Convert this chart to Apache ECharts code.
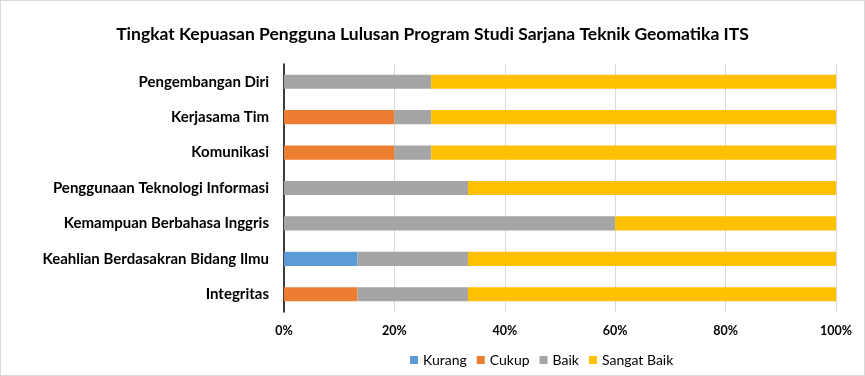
<!DOCTYPE html>
<html>
<head>
<meta charset="utf-8">
<script src="https://cdn.jsdelivr.net/npm/echarts@6/dist/echarts.min.js"></script>
<style>
  html, body { margin: 0; padding: 0; background: #fff; }
  #chart { width: 863px; height: 374px; border: 1px solid #d9d9d9; }
</style>
</head>
<body>
<div id="chart"></div>
<script>
// kategori dari atas ke bawah
const categories = [
  "Pengembangan Diri",
  "Kerjasama Tim",
  "Komunikasi",
  "Penggunaan Teknologi Informasi",
  "Kemampuan Berbahasa Inggris",
  "Keahlian Berdasakran Bidang Ilmu",
  "Integritas",
];
const kurang = [0, 0, 0, 0, 0, 13.33, 0];
const cukup = [0, 20, 20, 0, 0, 0, 13.33];
const baik = [26.67, 6.67, 6.67, 33.33, 60, 20, 20];
const sangatBaik = [73.33, 73.33, 73.33, 66.67, 40, 66.67, 66.67];
const xTicks = [0, 20, 40, 60, 80, 100];

const font = "Lato, 'Open Sans', sans-serif";
const chart = echarts.init(document.getElementById("chart"));

function bar(name, data, color) {
  return {
    name: name,
    type: "bar",
    stack: "total",
    data: data,
    barWidth: "40%",
    itemStyle: { color: color },
  };
}

chart.setOption({
  animation: false,
  textStyle: { fontFamily: font },
  title: {
    text: "Tingkat Kepuasan Pengguna Lulusan Program Studi Sarjana Teknik Geomatika ITS",
    left: "center",
    top: 19,
    textStyle: { fontSize: 17.5, fontWeight: "bold", color: "#000", fontFamily: font },
  },
  legend: {
    top: 347,
    left: 404,
    itemWidth: 8,
    itemHeight: 8,
    itemGap: 10,
    icon: "rect",
    textStyle: { fontSize: 14, color: "#000", fontFamily: font },
    data: ["Kurang", "Cukup", "Baik", "Sangat Baik"],
  },
  grid: { left: 283, right: 28, top: 63, bottom: 63, containLabel: false },
  xAxis: {
    type: "value",
    min: xTicks[0],
    max: xTicks[xTicks.length - 1],
    interval: 20,
    axisLine: { show: false },
    axisTick: { show: false },
    splitLine: { lineStyle: { color: "#d9d9d9", width: 1 } },
    axisLabel: {
      formatter: "{value}%",
      fontSize: 12.5,
      fontWeight: "bold",
      color: "#000",
      margin: 12,
      fontFamily: font,
    },
  },
  yAxis: {
    type: "category",
    inverse: true,
    data: categories,
    axisLine: { lineStyle: { color: "#000", width: 1.5 } },
    axisTick: { length: 5, lineStyle: { color: "#000", width: 1.5 } },
    axisLabel: {
      fontSize: 15,
      fontWeight: "bold",
      color: "#000",
      margin: 15,
      fontFamily: font,
    },
  },
  series: [
    bar("Kurang", kurang, "#5b9bd5"),
    bar("Cukup", cukup, "#ed7d31"),
    bar("Baik", baik, "#a5a5a5"),
    bar("Sangat Baik", sangatBaik, "#ffc000"),
  ],
});
</script>
</body>
</html>
